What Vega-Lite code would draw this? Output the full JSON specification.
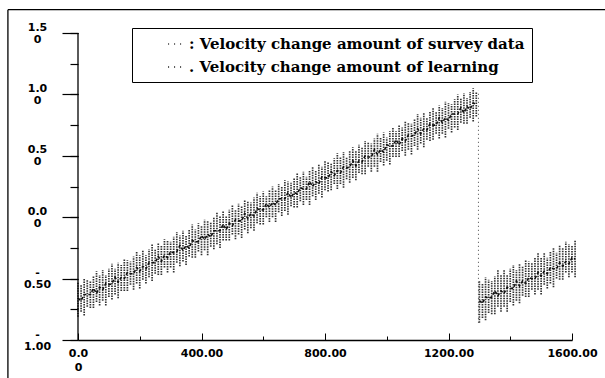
{
"$schema": "https://vega.github.io/schema/vega-lite/v6.json",
"autosize": "none",
"width": 494,
"height": 307,
"padding": {"left": 78, "top": 33, "right": 33, "bottom": 38},
"background": "white",
"config": {"view": {"stroke": null}},
"datasets": {
"survey": [
{"s":1,"x":0,"lo":-0.81,"hi":-0.53,"m":-0.66},{"s":1,"x":10,"lo":-0.77,"hi":-0.55,"m":-0.68},{"s":1,"x":20,"lo":-0.80,"hi":-0.50,"m":-0.63},{"s":1,"x":30,"lo":-0.73,"hi":-0.51,"m":-0.63},{"s":1,"x":40,"lo":-0.74,"hi":-0.52,"m":-0.63},{"s":1,"x":50,"lo":-0.74,"hi":-0.48,"m":-0.58},{"s":1,"x":60,"lo":-0.69,"hi":-0.44,"m":-0.62},{"s":1,"x":70,"lo":-0.72,"hi":-0.47,"m":-0.57},{"s":1,"x":80,"lo":-0.68,"hi":-0.43,"m":-0.59},{"s":1,"x":90,"lo":-0.72,"hi":-0.47,"m":-0.54},
{"s":1,"x":100,"lo":-0.65,"hi":-0.42,"m":-0.55},{"s":1,"x":110,"lo":-0.67,"hi":-0.38,"m":-0.54},{"s":1,"x":120,"lo":-0.63,"hi":-0.42,"m":-0.49},{"s":1,"x":130,"lo":-0.66,"hi":-0.37,"m":-0.53},{"s":1,"x":140,"lo":-0.60,"hi":-0.39,"m":-0.49},{"s":1,"x":150,"lo":-0.60,"hi":-0.34,"m":-0.50},{"s":1,"x":160,"lo":-0.60,"hi":-0.35,"m":-0.45},{"s":1,"x":170,"lo":-0.55,"hi":-0.36,"m":-0.46},{"s":1,"x":180,"lo":-0.59,"hi":-0.32,"m":-0.46},{"s":1,"x":190,"lo":-0.54,"hi":-0.28,"m":-0.41},
{"s":1,"x":200,"lo":-0.58,"hi":-0.31,"m":-0.44},{"s":1,"x":210,"lo":-0.51,"hi":-0.27,"m":-0.40},{"s":1,"x":220,"lo":-0.54,"hi":-0.31,"m":-0.42},{"s":1,"x":230,"lo":-0.49,"hi":-0.26,"m":-0.37},{"s":1,"x":240,"lo":-0.52,"hi":-0.22,"m":-0.37},{"s":1,"x":250,"lo":-0.46,"hi":-0.26,"m":-0.37},{"s":1,"x":260,"lo":-0.47,"hi":-0.21,"m":-0.32},{"s":1,"x":270,"lo":-0.47,"hi":-0.23,"m":-0.36},{"s":1,"x":280,"lo":-0.41,"hi":-0.18,"m":-0.31},{"s":1,"x":290,"lo":-0.45,"hi":-0.19,"m":-0.33},
{"s":1,"x":300,"lo":-0.41,"hi":-0.20,"m":-0.28},{"s":1,"x":310,"lo":-0.45,"hi":-0.16,"m":-0.29},{"s":1,"x":320,"lo":-0.37,"hi":-0.12,"m":-0.28},{"s":1,"x":330,"lo":-0.40,"hi":-0.15,"m":-0.23},{"s":1,"x":340,"lo":-0.36,"hi":-0.11,"m":-0.27},{"s":1,"x":350,"lo":-0.39,"hi":-0.15,"m":-0.23},{"s":1,"x":360,"lo":-0.32,"hi":-0.10,"m":-0.25},{"s":1,"x":370,"lo":-0.33,"hi":-0.06,"m":-0.19},{"s":1,"x":380,"lo":-0.33,"hi":-0.10,"m":-0.20},{"s":1,"x":390,"lo":-0.28,"hi":-0.05,"m":-0.20},
{"s":1,"x":400,"lo":-0.31,"hi":-0.07,"m":-0.15},{"s":1,"x":410,"lo":-0.27,"hi":-0.02,"m":-0.18},{"s":1,"x":420,"lo":-0.31,"hi":-0.03,"m":-0.14},{"s":1,"x":430,"lo":-0.24,"hi":-0.04,"m":-0.16},{"s":1,"x":440,"lo":-0.26,"hi":0.00,"m":-0.11},{"s":1,"x":450,"lo":-0.22,"hi":0.04,"m":-0.11},{"s":1,"x":460,"lo":-0.25,"hi":0.01,"m":-0.11},{"s":1,"x":470,"lo":-0.19,"hi":0.05,"m":-0.06},{"s":1,"x":480,"lo":-0.19,"hi":0.01,"m":-0.10},{"s":1,"x":490,"lo":-0.19,"hi":0.06,"m":-0.05},
{"s":1,"x":500,"lo":-0.14,"hi":0.10,"m":-0.07},{"s":1,"x":510,"lo":-0.18,"hi":0.06,"m":-0.02},{"s":1,"x":520,"lo":-0.14,"hi":0.11,"m":-0.03},{"s":1,"x":530,"lo":-0.17,"hi":0.09,"m":-0.03},{"s":1,"x":540,"lo":-0.10,"hi":0.14,"m":0.03},{"s":1,"x":550,"lo":-0.13,"hi":0.13,"m":-0.01},{"s":1,"x":560,"lo":-0.09,"hi":0.12,"m":0.03},{"s":1,"x":570,"lo":-0.11,"hi":0.16,"m":0.01},{"s":1,"x":580,"lo":-0.05,"hi":0.20,"m":0.07},{"s":1,"x":590,"lo":-0.06,"hi":0.17,"m":0.06},
{"s":1,"x":600,"lo":-0.06,"hi":0.21,"m":0.06},{"s":1,"x":610,"lo":0.00,"hi":0.17,"m":0.11},{"s":1,"x":620,"lo":-0.04,"hi":0.22,"m":0.08},{"s":1,"x":630,"lo":0.00,"hi":0.25,"m":0.12},{"s":1,"x":640,"lo":-0.04,"hi":0.22,"m":0.10},{"s":1,"x":650,"lo":0.04,"hi":0.27,"m":0.15},{"s":1,"x":660,"lo":0.01,"hi":0.25,"m":0.15},{"s":1,"x":670,"lo":0.05,"hi":0.30,"m":0.15},{"s":1,"x":680,"lo":0.02,"hi":0.29,"m":0.20},{"s":1,"x":690,"lo":0.09,"hi":0.28,"m":0.16},
{"s":1,"x":700,"lo":0.08,"hi":0.32,"m":0.20},{"s":1,"x":710,"lo":0.08,"hi":0.36,"m":0.19},{"s":1,"x":720,"lo":0.13,"hi":0.33,"m":0.24},{"s":1,"x":730,"lo":0.10,"hi":0.37,"m":0.23},{"s":1,"x":740,"lo":0.14,"hi":0.33,"m":0.23},{"s":1,"x":750,"lo":0.10,"hi":0.38,"m":0.29},{"s":1,"x":760,"lo":0.17,"hi":0.41,"m":0.25},{"s":1,"x":770,"lo":0.14,"hi":0.38,"m":0.29},{"s":1,"x":780,"lo":0.19,"hi":0.43,"m":0.27},{"s":1,"x":790,"lo":0.16,"hi":0.41,"m":0.33},
{"s":1,"x":800,"lo":0.22,"hi":0.46,"m":0.32},{"s":1,"x":810,"lo":0.21,"hi":0.45,"m":0.32},{"s":1,"x":820,"lo":0.22,"hi":0.44,"m":0.37},{"s":1,"x":830,"lo":0.27,"hi":0.48,"m":0.34},{"s":1,"x":840,"lo":0.23,"hi":0.52,"m":0.38},{"s":1,"x":850,"lo":0.27,"hi":0.49,"m":0.36},{"s":1,"x":860,"lo":0.24,"hi":0.53,"m":0.41},{"s":1,"x":870,"lo":0.31,"hi":0.49,"m":0.40},{"s":1,"x":880,"lo":0.28,"hi":0.54,"m":0.41},{"s":1,"x":890,"lo":0.32,"hi":0.57,"m":0.46},
{"s":1,"x":900,"lo":0.30,"hi":0.54,"m":0.42},{"s":1,"x":910,"lo":0.36,"hi":0.59,"m":0.46},{"s":1,"x":920,"lo":0.35,"hi":0.57,"m":0.45},{"s":1,"x":930,"lo":0.35,"hi":0.62,"m":0.50},{"s":1,"x":940,"lo":0.41,"hi":0.61,"m":0.49},{"s":1,"x":950,"lo":0.37,"hi":0.60,"m":0.49},{"s":1,"x":960,"lo":0.41,"hi":0.64,"m":0.55},{"s":1,"x":970,"lo":0.37,"hi":0.68,"m":0.51},{"s":1,"x":980,"lo":0.45,"hi":0.65,"m":0.55},{"s":1,"x":990,"lo":0.42,"hi":0.69,"m":0.53},
{"s":1,"x":1000,"lo":0.46,"hi":0.65,"m":0.59},{"s":1,"x":1010,"lo":0.43,"hi":0.70,"m":0.58},{"s":1,"x":1020,"lo":0.49,"hi":0.73,"m":0.58},{"s":1,"x":1030,"lo":0.49,"hi":0.70,"m":0.63},{"s":1,"x":1040,"lo":0.49,"hi":0.75,"m":0.59},{"s":1,"x":1050,"lo":0.54,"hi":0.73,"m":0.64},{"s":1,"x":1060,"lo":0.50,"hi":0.78,"m":0.62},{"s":1,"x":1070,"lo":0.55,"hi":0.77,"m":0.67},{"s":1,"x":1080,"lo":0.51,"hi":0.76,"m":0.66},{"s":1,"x":1090,"lo":0.58,"hi":0.80,"m":0.67},
{"s":1,"x":1100,"lo":0.55,"hi":0.84,"m":0.72},{"s":1,"x":1110,"lo":0.60,"hi":0.81,"m":0.68},{"s":1,"x":1120,"lo":0.57,"hi":0.85,"m":0.72},{"s":1,"x":1130,"lo":0.63,"hi":0.81,"m":0.71},{"s":1,"x":1140,"lo":0.62,"hi":0.86,"m":0.76},{"s":1,"x":1150,"lo":0.63,"hi":0.89,"m":0.75},{"s":1,"x":1160,"lo":0.68,"hi":0.86,"m":0.75},{"s":1,"x":1170,"lo":0.64,"hi":0.91,"m":0.81},{"s":1,"x":1180,"lo":0.68,"hi":0.89,"m":0.77},{"s":1,"x":1190,"lo":0.65,"hi":0.94,"m":0.81},
{"s":1,"x":1200,"lo":0.72,"hi":0.93,"m":0.79},{"s":1,"x":1210,"lo":0.69,"hi":0.92,"m":0.84},{"s":1,"x":1220,"lo":0.73,"hi":0.96,"m":0.84},{"s":1,"x":1230,"lo":0.71,"hi":1.00,"m":0.84},{"s":1,"x":1240,"lo":0.77,"hi":0.97,"m":0.89},{"s":1,"x":1250,"lo":0.76,"hi":1.01,"m":0.85},{"s":1,"x":1260,"lo":0.76,"hi":0.97,"m":0.90},{"s":1,"x":1270,"lo":0.81,"hi":1.02,"m":0.88},{"s":1,"x":1280,"lo":0.78,"hi":1.05,"m":0.93},{"s":1,"x":1290,"lo":0.82,"hi":1.02,"m":0.92},
{"s":2,"x":1300,"lo":-0.86,"hi":-0.52,"m":-0.68},{"s":2,"x":1310,"lo":-0.82,"hi":-0.54,"m":-0.70},{"s":2,"x":1320,"lo":-0.84,"hi":-0.49,"m":-0.65},{"s":2,"x":1330,"lo":-0.78,"hi":-0.51,"m":-0.66},{"s":2,"x":1340,"lo":-0.79,"hi":-0.52,"m":-0.65},{"s":2,"x":1350,"lo":-0.79,"hi":-0.48,"m":-0.60},{"s":2,"x":1360,"lo":-0.73,"hi":-0.43,"m":-0.64},{"s":2,"x":1370,"lo":-0.77,"hi":-0.47,"m":-0.60},{"s":2,"x":1380,"lo":-0.73,"hi":-0.43,"m":-0.62},{"s":2,"x":1390,"lo":-0.77,"hi":-0.47,"m":-0.57},
{"s":2,"x":1400,"lo":-0.69,"hi":-0.42,"m":-0.58},{"s":2,"x":1410,"lo":-0.72,"hi":-0.39,"m":-0.58},{"s":2,"x":1420,"lo":-0.68,"hi":-0.43,"m":-0.52},{"s":2,"x":1430,"lo":-0.70,"hi":-0.38,"m":-0.56},{"s":2,"x":1440,"lo":-0.64,"hi":-0.40,"m":-0.52},{"s":2,"x":1450,"lo":-0.65,"hi":-0.35,"m":-0.54},{"s":2,"x":1460,"lo":-0.65,"hi":-0.36,"m":-0.49},{"s":2,"x":1470,"lo":-0.59,"hi":-0.37,"m":-0.50},{"s":2,"x":1480,"lo":-0.63,"hi":-0.33,"m":-0.50},{"s":2,"x":1490,"lo":-0.59,"hi":-0.29,"m":-0.45},
{"s":2,"x":1500,"lo":-0.63,"hi":-0.33,"m":-0.48},{"s":2,"x":1510,"lo":-0.55,"hi":-0.29,"m":-0.44},{"s":2,"x":1520,"lo":-0.58,"hi":-0.33,"m":-0.46},{"s":2,"x":1530,"lo":-0.54,"hi":-0.28,"m":-0.41},{"s":2,"x":1540,"lo":-0.57,"hi":-0.25,"m":-0.42},{"s":2,"x":1550,"lo":-0.50,"hi":-0.29,"m":-0.42},{"s":2,"x":1560,"lo":-0.51,"hi":-0.23,"m":-0.37},{"s":2,"x":1570,"lo":-0.51,"hi":-0.25,"m":-0.40},{"s":2,"x":1580,"lo":-0.45,"hi":-0.20,"m":-0.36},{"s":2,"x":1590,"lo":-0.49,"hi":-0.22,"m":-0.38},
{"s":2,"x":1600,"lo":-0.45,"hi":-0.23,"m":-0.33},{"s":2,"x":1610,"lo":-0.49,"hi":-0.19,"m":-0.34}
],
"jump": [{"x":1297,"lo":-0.86,"hi":1.03}],
"frame": [{"x":-227,"x2":-227,"y":1.69,"y2":-1.32},{"x":-227,"x2":1710,"y":1.69,"y2":1.69},{"x":0,"x2":0,"y":-1,"y2":1.5}]
},
"resolve": {"axis": {"x": "independent", "y": "independent"}},
"layer": [
{
"data": {"name": "survey"},
"mark": {"type": "rule", "strokeWidth": 1.7, "strokeDash": [1.5, 1]},
"encoding": {
"x": {"field": "x", "type": "quantitative", "title": null,
"scale": {"domain": [0, 1600], "nice": false, "zero": false},
"axis": {"orient": "bottom", "values": [200,600,1000,1400], "title": null, "grid": false, "labels": false, "domain": false,
"tickSize": -4, "tickColor": "black"}},
"y": {"field": "lo", "type": "quantitative", "title": null,
"scale": {"domain": [-1, 1.5], "nice": false, "zero": false},
"axis": {"orient": "left", "values": [-1,-0.75,-0.5,-0.25,0,0.25,0.5,0.75,1,1.25,1.5], "title": null, "grid": false, "labels": false, "domain": false,
"tickSize": 8, "tickColor": "black", "tickWidth": 1.2}},
"y2": {"field": "hi"},
"color": {"datum": "Velocity change amount of survey data", "type": "nominal",
"scale": {"domain": ["Velocity change amount of survey data", "Velocity change amount of learning"], "range": ["#333333", "#111111"]},
"legend": {"orient": "none", "legendX": 54, "legendY": -5, "title": null,
"strokeColor": "black", "fillColor": "white", "padding": 7, "rowPadding": 6, "labelLimit": 600,
"labelFont": "DejaVu Serif", "labelFontSize": 15, "labelFontWeight": "bold", "labelColor": "black",
"labelExpr": "(datum.label == 'Velocity change amount of survey data' ? ': ' : '. ') + datum.label",
"symbolType": "stroke", "symbolSize": 250, "symbolDash": [1, 5], "symbolStrokeWidth": 1.5, "symbolOffset": 28}}
}
},
{
"data": {"name": "survey"},
"mark": {"type": "line", "strokeWidth": 1.6, "strokeDash": [3, 2]},
"encoding": {
"x": {"field": "x", "type": "quantitative", "title": null,
"axis": {"orient": "bottom", "values": [0,400,800,1200,1600], "title": null, "grid": false,
"labelExpr": "datum.value == 0 ? ['0.0','0'] : format(datum.value, '.2f')",
"tickSize": -7, "labelPadding": 20, "labelBaseline": "middle", "labelFlush": false, "labelOverlap": false,
"labelFont": "DejaVu Sans", "labelFontWeight": "bold", "labelFontSize": 11, "labelLineHeight": 14,
"labelColor": "black", "domain": true, "domainColor": "black", "domainWidth": 1.5, "ticks": true, "tickColor": "black"}},
"y": {"field": "m", "type": "quantitative", "axis": null},
"detail": {"field": "s"},
"color": {"datum": "Velocity change amount of learning", "type": "nominal"}
}
},
{
"data": {"name": "jump"},
"mark": {"type": "rule", "color": "#444", "strokeWidth": 1, "strokeDash": [1, 3]},
"encoding": {
"x": {"field": "x", "type": "quantitative", "axis": null},
"y": {"field": "lo", "type": "quantitative", "title": null,
"axis": {"orient": "left", "values": [-1,-0.5,0,0.5,1,1.5], "title": null, "grid": false, "ticks": true, "tickSize": 16, "tickColor": "black", "tickWidth": 1.2, "domain": false,
"labelExpr": "datum.value == 1.5 ? ['1.5','0'] : datum.value == 1 ? ['1.0','0'] : datum.value == 0.5 ? ['0.5','0'] : datum.value == 0 ? ['0.0','0'] : datum.value == -0.5 ? ['-','0.50'] : ['-','1.00']",
"labelPadding": 25, "labelAlign": "center", "labelBaseline": "middle", "labelOffset": -6, "labelOverlap": false, "labelFlush": false,
"labelFont": "DejaVu Sans", "labelFontWeight": "bold", "labelFontSize": 11, "labelLineHeight": 12, "labelColor": "black"}},
"y2": {"field": "hi"}
}
},
{
"data": {"name": "frame"},
"mark": {"type": "rule", "color": "black", "strokeWidth": 1.3},
"encoding": {
"x": {"field": "x", "type": "quantitative", "axis": null},
"x2": {"field": "x2"},
"y": {"field": "y", "type": "quantitative", "axis": null},
"y2": {"field": "y2"}
}
}
]
}
